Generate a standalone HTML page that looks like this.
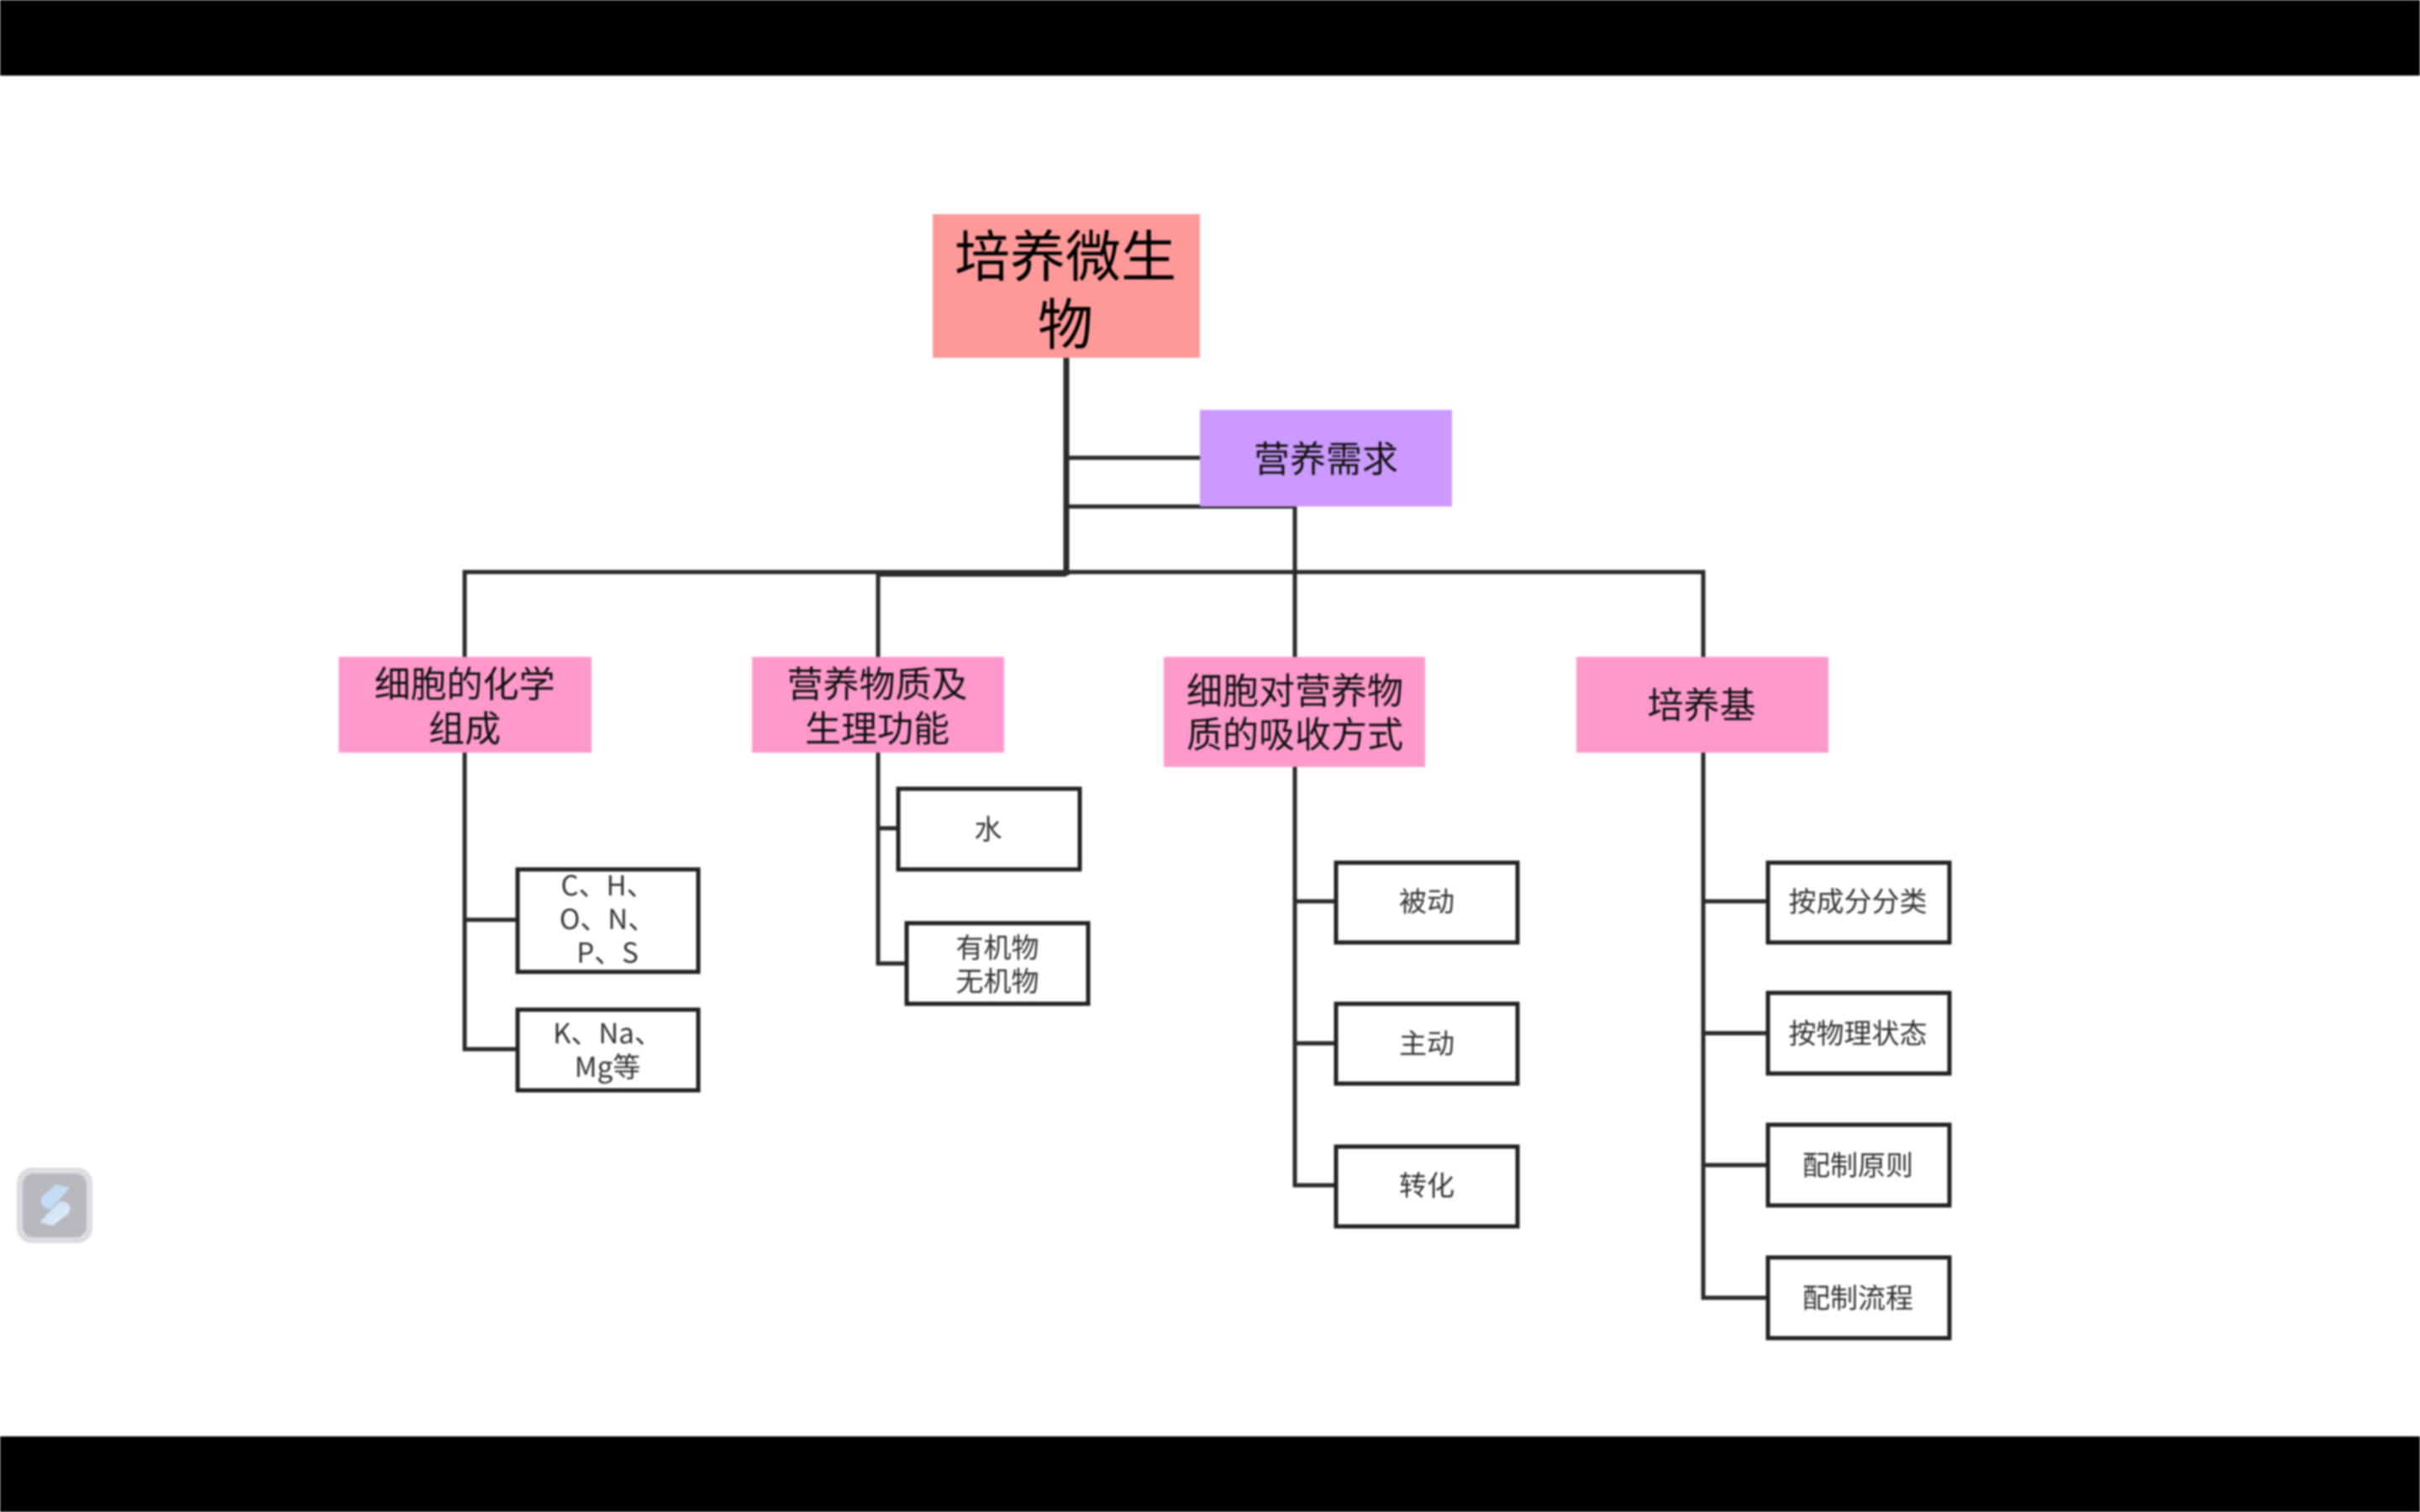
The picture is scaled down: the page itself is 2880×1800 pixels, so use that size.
<!DOCTYPE html>
<html lang="zh">
<head>
<meta charset="utf-8">
<title>培养微生物</title>
<style>
html,body{margin:0;padding:0;width:2880px;height:1800px;background:#fff;overflow:hidden}
svg{display:block;position:absolute;left:0;top:0;filter:blur(1px)}
text{font-family:"Noto Sans CJK SC","Liberation Sans",sans-serif;text-anchor:middle}
.t0{font-size:66px;fill:#000}
.t1{font-size:43px;fill:#111}
.t2{font-size:33px;fill:#333}
.c{fill:none;stroke:#2b2b2b;stroke-width:5}
.leaf{fill:#fff;stroke:#222;stroke-width:5}
</style>
</head>
<body>
<svg width="2880" height="1800" viewBox="0 0 2880 1800" xmlns="http://www.w3.org/2000/svg">
<defs>
<linearGradient id="g" x1="0" y1="0" x2="1" y2="1">
<stop offset="0" stop-color="#c3dcf6"/><stop offset="1" stop-color="#e6eef8"/>
</linearGradient>
</defs>
<rect x="0" y="0" width="2880" height="1800" fill="#fff"/>
<rect x="0" y="0" width="2880" height="90" fill="#000"/>
<rect x="0" y="1710" width="2880" height="90" fill="#000"/>

<!-- connectors -->
<path class="c" style="stroke-width:7" d="M1269 425V685"/>
<path class="c" d="M1269 545H1428"/>
<path class="c" d="M1269 603H1541V782"/>
<path class="c" d="M553 782V681H2027V782"/>
<path class="c" d="M1045 782V682"/>
<path class="c" style="stroke-width:5" d="M1045 684H1269"/>
<path class="c" d="M553 895V1249H615"/>
<path class="c" d="M553 1095H615"/>
<path class="c" d="M1045 895V1147H1078"/>
<path class="c" d="M1045 986H1069"/>
<path class="c" d="M1541 913V1411H1590"/>
<path class="c" d="M1541 1073H1590M1541 1242H1590"/>
<path class="c" d="M2027 895V1545H2103"/>
<path class="c" d="M2027 1073H2103M2027 1230H2103M2027 1387H2103"/>

<!-- main boxes -->
<rect x="1110" y="255" width="318" height="171" fill="#ff9999"/>
<rect x="1428" y="488" width="300" height="115" fill="#cc99ff"/>
<rect x="403" y="782" width="301" height="114" fill="#ff99cc"/>
<rect x="895" y="782" width="300" height="114" fill="#ff99cc"/>
<rect x="1385" y="782" width="311" height="131" fill="#ff99cc"/>
<rect x="1876" y="782" width="300" height="114" fill="#ff99cc"/>

<text class="t0" x="1268" y="329">培养微生</text>
<text class="t0" x="1268" y="410">物</text>
<text class="t1" x="1578" y="562">营养需求</text>
<text class="t1" x="553" y="830">细胞的化学</text>
<text class="t1" x="553" y="883">组成</text>
<text class="t1" x="1044" y="830">营养物质及</text>
<text class="t1" x="1044" y="883">生理功能</text>
<text class="t1" x="1541" y="838">细胞对营养物</text>
<text class="t1" x="1541" y="890">质的吸收方式</text>
<text class="t1" x="2025" y="855">培养基</text>

<!-- leaves -->
<rect class="leaf" x="616" y="1035" width="215" height="122"/>
<rect class="leaf" x="616" y="1202" width="215" height="96"/>
<rect class="leaf" x="1069" y="939" width="216" height="96"/>
<rect class="leaf" x="1079" y="1099" width="216" height="96"/>
<rect class="leaf" x="1590" y="1027" width="216" height="95"/>
<rect class="leaf" x="1590" y="1195" width="216" height="95"/>
<rect class="leaf" x="1590" y="1365" width="216" height="95"/>
<rect class="leaf" x="2104" y="1027" width="216" height="95"/>
<rect class="leaf" x="2104" y="1182" width="216" height="96"/>
<rect class="leaf" x="2104" y="1339" width="216" height="96"/>
<rect class="leaf" x="2104" y="1497" width="216" height="96"/>

<text class="t2" x="723" y="1066">C、H、</text>
<text class="t2" x="723" y="1106">O、N、</text>
<text class="t2" x="723" y="1146">P、S</text>
<text class="t2" x="723" y="1242">K、Na、</text>
<text class="t2" x="723" y="1282">Mg等</text>
<text class="t2" x="1176" y="999">水</text>
<text class="t2" x="1187" y="1140">有机物</text>
<text class="t2" x="1187" y="1180">无机物</text>
<text class="t2" x="1698" y="1085">被动</text>
<text class="t2" x="1698" y="1254">主动</text>
<text class="t2" x="1698" y="1423">转化</text>
<text class="t2" x="2211" y="1085">按成分分类</text>
<text class="t2" x="2211" y="1242">按物理状态</text>
<text class="t2" x="2211" y="1399">配制原则</text>
<text class="t2" x="2211" y="1557">配制流程</text>

<!-- floating icon -->
<rect x="20" y="1390" width="90" height="90" rx="18" fill="#dcdde1"/>
<rect x="27" y="1397" width="76" height="76" rx="13" fill="#b8b9bf"/>
<path d="M67 1410L83 1414L61 1439Q54 1440 50 1434Q47 1428 51 1424Z" fill="#c3dcf6"/>
<path d="M70 1431Q78 1429 82 1434Q85 1440 81 1445L63 1459L47 1455Z" fill="url(#g)"/>
</svg>
</body>
</html>
